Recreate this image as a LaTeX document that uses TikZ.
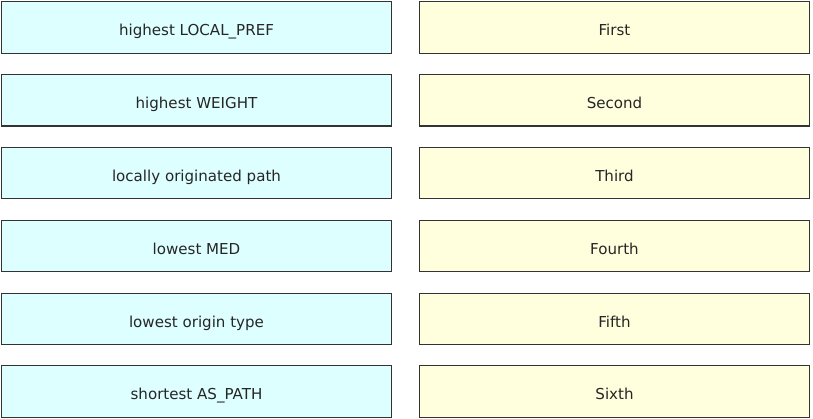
\documentclass[tikz,border=0pt]{standalone}
\usepackage{fontspec}
\setmainfont{DejaVu Sans}
\usetikzlibrary{positioning}
\definecolor{critblue}{HTML}{DDFFFF}
\definecolor{rankyellow}{HTML}{FFFFDD}
\definecolor{boxline}{HTML}{333333}

\begin{document}
\begin{tikzpicture}[x=0.75pt, y=-0.75pt, on grid, node distance=54.6pt and 313.5pt,
    cell/.style={rectangle, draw=boxline, line width=0.8pt, minimum width=292pt, minimum height=38.5pt, text height=12.6pt, text depth=0pt, font=\fontsize{11.3}{13}\selectfont, text=black!85},
    crit/.style={cell, fill=critblue},
    rank/.style={cell, fill=rankyellow}]
      \useasboundingbox (0,0) rectangle (813,418);
      \node[crit] (c1) at (196.5,27.5) {highest LOCAL\_PREF};
      \node[crit, below=of c1] (c2) {highest WEIGHT};
      \node[crit, below=of c2] (c3) {locally originated path};
      \node[crit, below=of c3] (c4) {lowest MED};
      \node[crit, below=of c4] (c5) {lowest origin type};
      \node[crit, below=of c5] (c6) {shortest AS\_PATH};

      \node[rank, right=of c1] (r1) {First};
      \node[rank, right=of c2] (r2) {Second};
      \node[rank, right=of c3] (r3) {Third};
      \node[rank, right=of c4] (r4) {Fourth};
      \node[rank, right=of c5] (r5) {Fifth};
      \node[rank, right=of c6] (r6) {Sixth};
    \end{tikzpicture}
\end{document}
